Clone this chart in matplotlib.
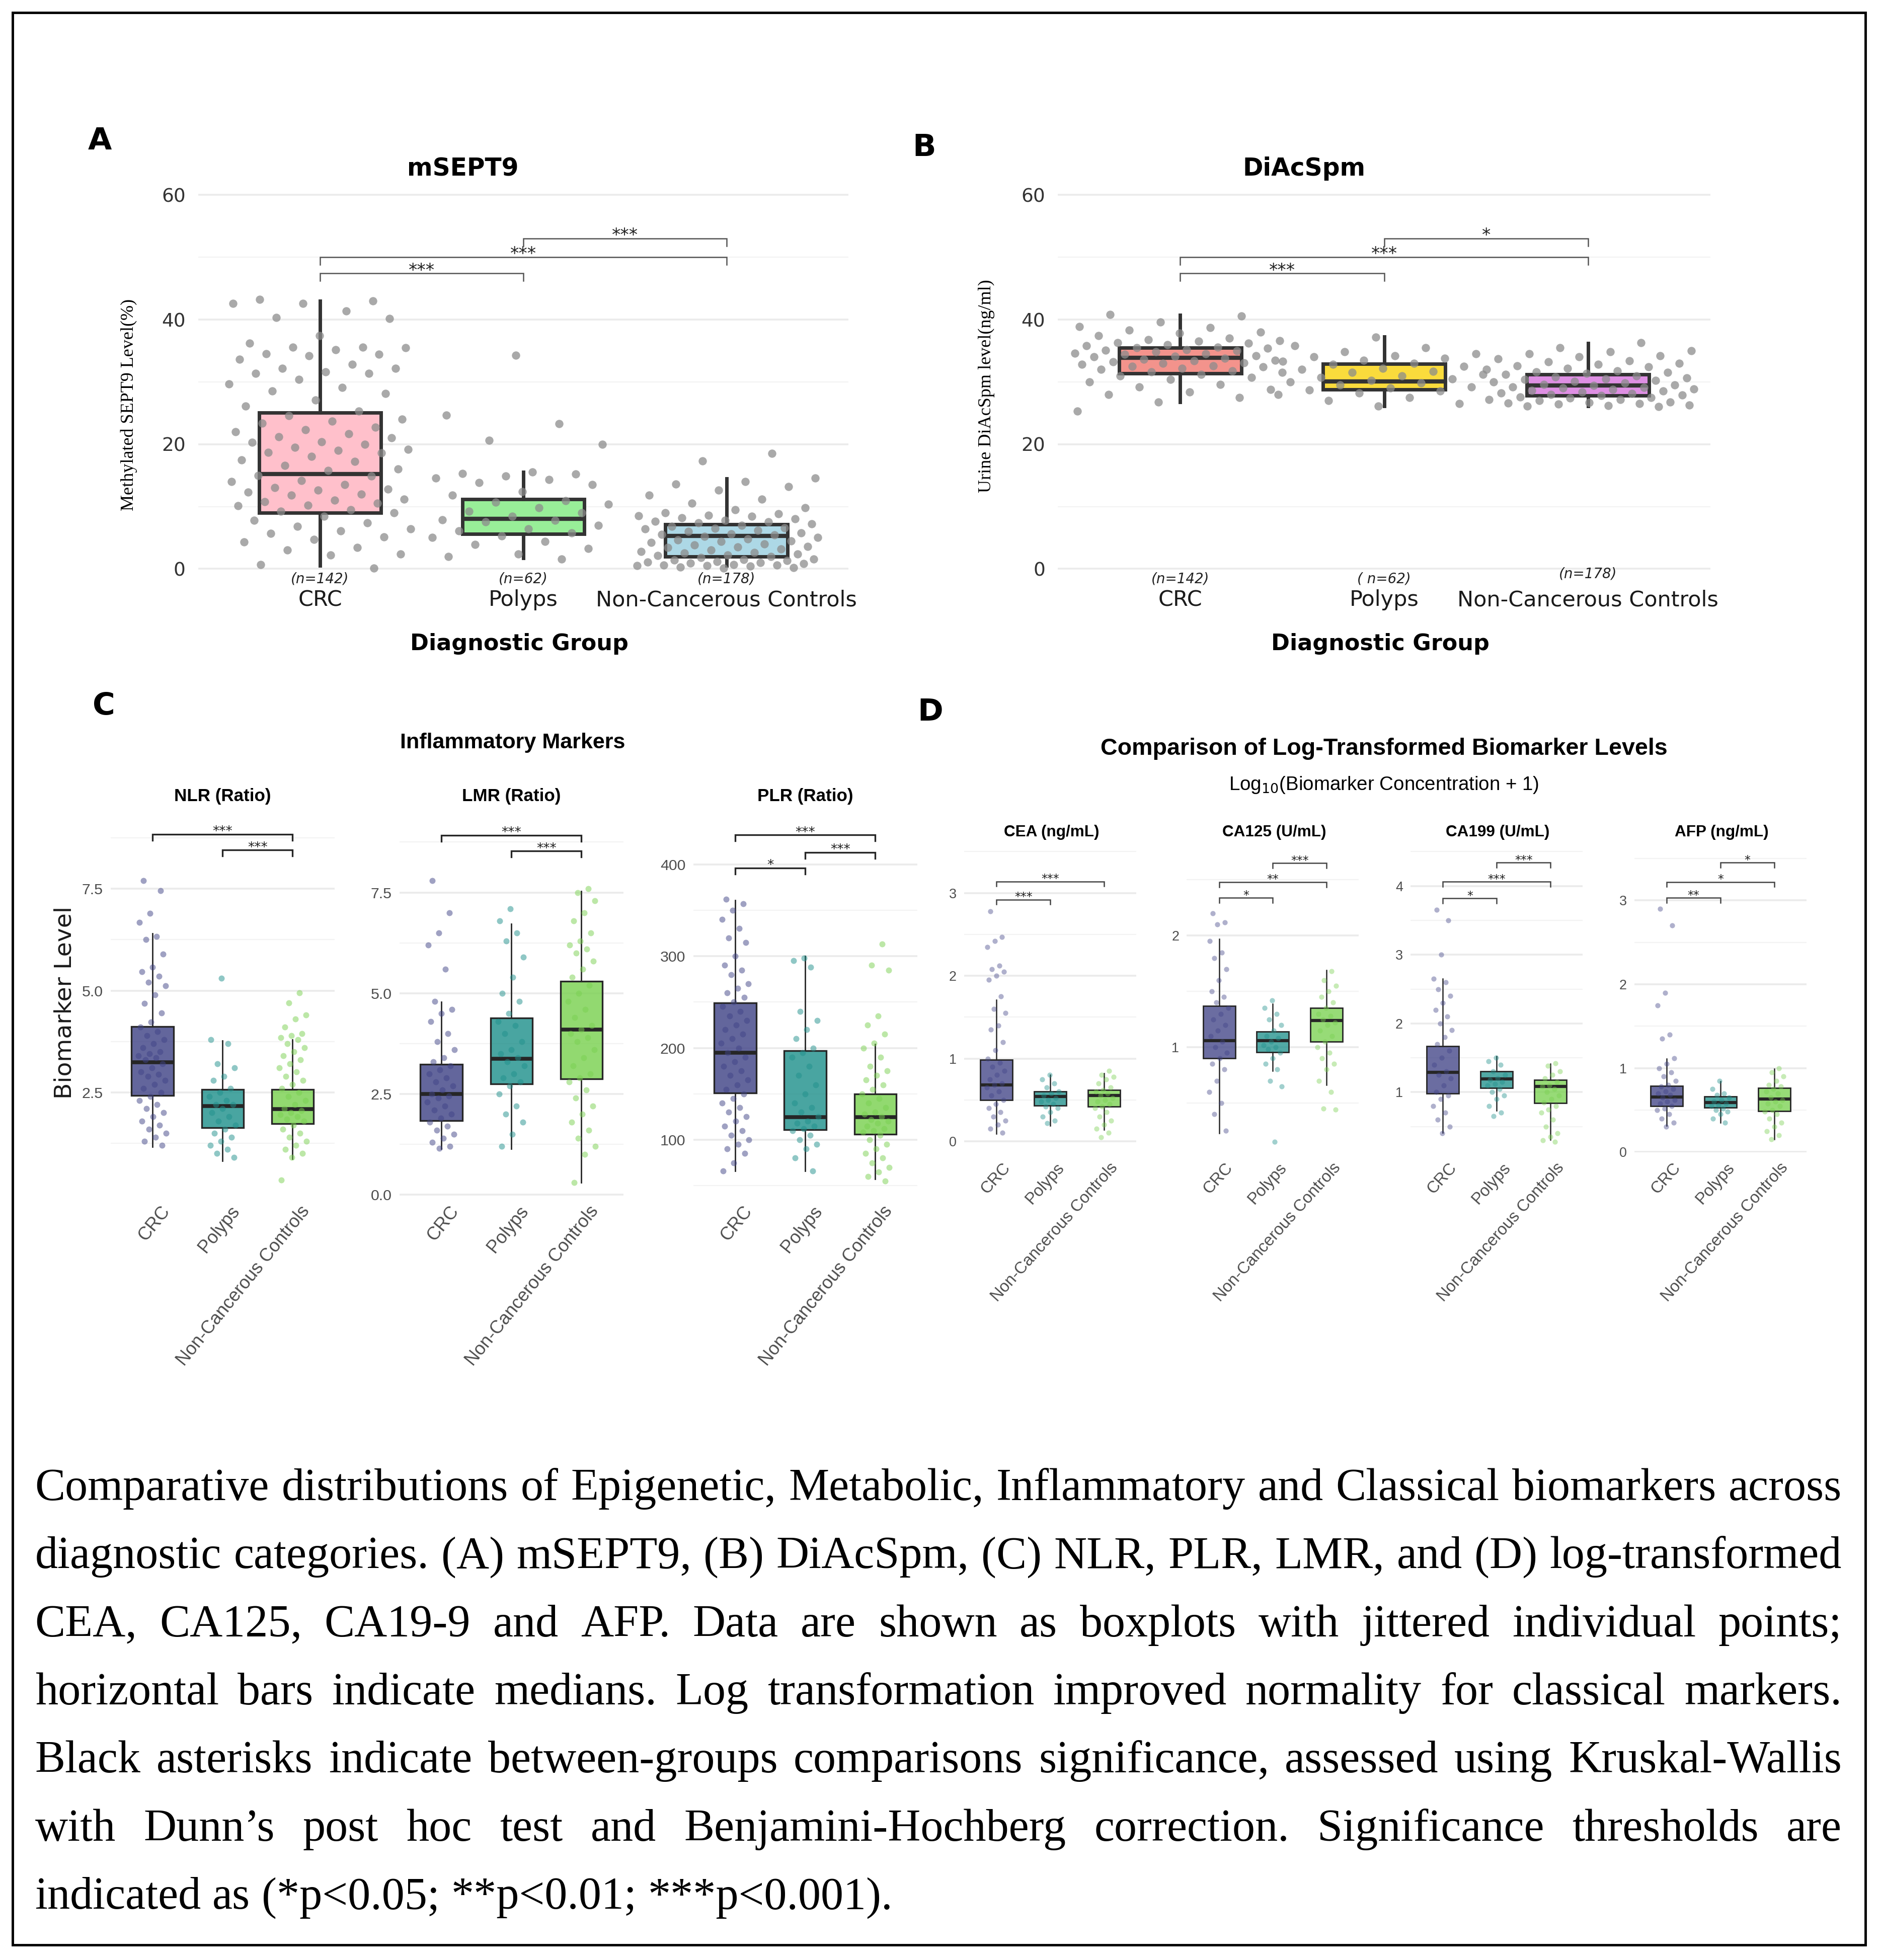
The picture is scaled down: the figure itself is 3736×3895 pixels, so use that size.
import matplotlib
matplotlib.use("Agg")
import matplotlib.pyplot as plt
import matplotlib.transforms as mtransforms
import matplotlib.colors as mcolors
from matplotlib import font_manager
from matplotlib.patches import Rectangle
import numpy as np

# ---------------- data ----------------
groups = ["CRC", "Polyps", "Non-Cancerous Controls"]
n_labels_a = ["(n=142)", "(n=62)", "(n=178)"]
n_labels_b = ["(n=142)", "( n=62)", "(n=178)"]

# box rows: q1, median, q3, whisker low, whisker high
sept9_box = [[9.0, 15.2, 25.1, 0.5, 43.0], [5.6, 8.0, 11.2, 1.7, 15.5], [2.0, 5.3, 7.1, 0.5, 14.5]]
diacspm_box = [[31.4, 33.9, 35.5, 26.8, 40.7], [28.8, 30.1, 32.9, 26.1, 37.3], [27.8, 29.4, 31.2, 26.1, 36.2]]
nlr_box = [[2.42, 3.24, 4.12, 1.17, 6.40], [1.63, 2.17, 2.57, 0.82, 3.77], [1.73, 2.09, 2.57, 0.87, 3.80]]
lmr_box = [[1.83, 2.50, 3.23, 1.14, 4.78], [2.75, 3.37, 4.38, 1.14, 6.72], [2.87, 4.09, 5.30, 0.30, 7.53]]
plr_box = [[151, 195, 249, 66, 361], [111, 124.6, 197, 66, 300], [106, 124.6, 150, 57, 204]]
cea_box = [[0.50, 0.68, 0.985, 0.09, 1.71], [0.43, 0.54, 0.60, 0.19, 0.80], [0.42, 0.55, 0.62, 0.14, 0.82]]
ca125_box = [[0.90, 1.06, 1.37, 0.23, 1.97], [0.955, 1.06, 1.14, 0.79, 1.39], [1.05, 1.24, 1.35, 0.66, 1.69]]
ca199_box = [[0.98, 1.29, 1.67, 0.41, 2.65], [1.06, 1.195, 1.30, 0.73, 1.52], [0.84, 1.08, 1.18, 0.31, 1.41]]
afp_box = [[0.55, 0.655, 0.79, 0.315, 1.115], [0.53, 0.59, 0.665, 0.35, 0.84], [0.49, 0.63, 0.765, 0.15, 0.99]]

# individual points
sept9_crc = [43.2, 43.0, 42.6, 42.6, 41.4, 40.3, 40.2, 37.4, 36.2, 35.6, 35.6, 35.5, 35.2, 34.5, 34.4,
             34.2, 33.6, 32.8, 32.2, 32.2, 31.6, 31.4, 31.4, 30.4, 29.7, 29.1, 28.5, 28.1, 27.1, 26.1,
             25.3, 24.6, 24.0, 23.7, 23.4, 22.7, 22.3, 22.0, 21.7, 21.2, 21.0, 20.4, 20.3, 20.0, 19.5,
             19.2, 19.0, 18.7, 18.6, 18.0, 17.5, 17.2, 16.6, 16.0, 15.8, 15.0, 14.9, 14.2, 14.0, 13.5,
             13.0, 12.8, 12.6, 12.3, 12.0, 11.8, 11.2, 11.0, 10.8, 10.5, 10.2, 10.1, 9.5, 9.2, 9.0, 8.4,
             7.8, 7.4, 6.8, 6.4, 6.1, 5.7, 5.1, 4.7, 4.3, 3.4, 3.0, 2.4, 2.2, 0.7, 0.1]
sept9_pol = [34.3, 24.7, 23.3, 20.6, 20.0, 15.5, 15.3, 15.2, 14.9, 14.6, 14.3, 13.8, 13.5, 12.4, 11.8,
             10.9, 10.7, 10.4, 9.8, 9.2, 9.0, 8.4, 7.9, 7.8, 7.5, 7.0, 6.4, 6.1, 5.8, 5.3, 5.0, 4.4,
             3.9, 3.3, 2.4, 2.0, 1.6]
sept9_ncc = [18.5, 17.3, 14.6, 14.0, 13.6, 13.2, 12.6, 11.8, 11.2, 10.5, 9.8, 9.5, 9.0, 8.8, 8.6, 8.5,
             8.4, 8.2, 8.0, 7.8, 7.6, 7.5, 7.4, 7.2, 7.0, 6.8, 6.6, 6.5, 6.4, 6.2, 6.0, 5.8, 5.6, 5.5,
             5.4, 5.2, 5.0, 4.8, 4.6, 4.5, 4.4, 4.2, 4.0, 3.8, 3.6, 3.5, 3.4, 3.2, 3.0, 2.8, 2.6, 2.5,
             2.4, 2.2, 2.1, 2.0, 1.8, 1.6, 1.5, 1.4, 1.3, 1.2, 1.1, 1.0, 0.9, 0.8, 0.7, 0.6, 0.6, 0.5,
             0.5, 0.4, 0.3, 0.2, 0.1]

diac_crc = [40.8, 40.6, 39.6, 38.9, 38.7, 38.3, 38.0, 37.8, 37.4, 37.0, 36.8, 36.6, 36.5, 36.3, 36.2,
            36.0, 35.8, 35.6, 35.5, 35.4, 35.2, 35.1, 35.0, 34.8, 34.6, 34.5, 34.4, 34.2, 34.1, 34.0,
            33.8, 33.6, 33.5, 33.4, 33.2, 33.1, 33.0, 32.8, 32.6, 32.5, 32.4, 32.2, 32.0, 31.8, 31.6,
            31.5, 31.2, 31.0, 30.7, 30.4, 30.0, 29.6, 29.2, 28.8, 28.4, 28.0, 27.5, 26.8, 25.3]
diac_pol = [37.2, 35.8, 35.5, 34.8, 34.5, 34.2, 34.0, 33.8, 33.5, 33.3, 33.0, 32.8, 32.5, 32.2, 32.0,
            31.7, 31.5, 31.2, 31.0, 30.7, 30.5, 30.2, 30.0, 29.8, 29.5, 29.2, 29.0, 28.7, 28.5, 28.2,
            28.0, 27.5, 27.0, 26.5, 26.1]
diac_ncc = [36.3, 35.5, 35.0, 34.8, 34.5, 34.2, 34.0, 33.7, 33.4, 33.2, 33.0, 32.8, 32.6, 32.4, 32.2,
            32.0, 31.8, 31.6, 31.5, 31.4, 31.2, 31.0, 30.8, 30.6, 30.5, 30.4, 30.2, 30.1, 30.0, 29.8,
            29.6, 29.5, 29.4, 29.2, 29.1, 29.0, 28.9, 28.8, 28.6, 28.5, 28.4, 28.2, 28.1, 28.0, 27.9,
            27.8, 27.6, 27.5, 27.4, 27.2, 27.2, 27.0, 26.8, 26.7, 26.6, 26.5, 26.4, 26.3, 26.2, 26.1, 26.0]

nlr_crc = [7.7, 7.45, 6.9, 6.68, 6.33, 6.26, 5.9, 5.58, 5.46, 5.35, 5.2, 5.12, 4.9, 4.68, 4.45, 4.23,
           4.1, 4.0, 3.9, 3.8, 3.7, 3.6, 3.5, 3.45, 3.4, 3.35, 3.3, 3.2, 3.1, 3.0, 2.95, 2.9, 2.8, 2.7,
           2.6, 2.5, 2.4, 2.3, 2.2, 2.1, 2.0, 1.9, 1.8, 1.7, 1.6, 1.5, 1.4, 1.3, 1.2]
nlr_pol = [5.3, 3.8, 3.7, 3.2, 3.1, 2.9, 2.8, 2.6, 2.5, 2.4, 2.3, 2.2, 2.2, 2.1, 2.0, 1.9, 1.8, 1.7,
           1.6, 1.5, 1.4, 1.3, 1.2, 1.1, 1.0, 0.9]
nlr_ncc = [4.95, 4.7, 4.4, 4.3, 4.1, 3.95, 3.9, 3.85, 3.8, 3.7, 3.6, 3.5, 3.4, 3.3, 3.2, 3.1, 3.0, 2.9,
           2.8, 2.7, 2.6, 2.5, 2.4, 2.3, 2.2, 2.1, 2.05, 2.0, 1.95, 1.9, 1.85, 1.8, 1.7, 1.6, 1.5, 1.4,
           1.3, 1.2, 1.1, 1.0, 0.9, 0.35]

lmr_crc = [7.8, 7.0, 6.5, 6.2, 5.6, 4.8, 4.6, 4.5, 4.3, 4.0, 3.8, 3.6, 3.4, 3.3, 3.2, 3.1, 3.0, 2.9,
           2.8, 2.7, 2.6, 2.5, 2.45, 2.4, 2.3, 2.2, 2.1, 2.0, 1.9, 1.8, 1.7, 1.6, 1.5, 1.4, 1.3, 1.2, 1.15]
lmr_pol = [7.1, 6.8, 6.5, 6.3, 5.9, 5.4, 5.0, 4.8, 4.5, 4.3, 4.2, 4.0, 3.8, 3.6, 3.5, 3.4, 3.3, 3.2,
           3.0, 2.9, 2.8, 2.7, 2.5, 2.2, 2.0, 1.8, 1.5, 1.2]
lmr_ncc = [7.6, 7.5, 7.3, 7.0, 6.8, 6.5, 6.3, 6.2, 6.1, 6.0, 5.8, 5.6, 5.4, 5.2, 5.0, 4.8, 4.6, 4.4,
           4.2, 4.1, 4.0, 3.9, 3.8, 3.6, 3.4, 3.2, 3.0, 2.9, 2.8, 2.6, 2.4, 2.2, 2.0, 1.8, 1.6, 1.4,
           1.2, 1.0, 0.3]

plr_crc = [362, 357, 350, 340, 330, 320, 315, 300, 290, 285, 280, 270, 265, 260, 255, 250, 245, 240,
           235, 230, 225, 220, 215, 210, 205, 200, 195, 190, 185, 180, 175, 170, 165, 160, 155, 150,
           145, 140, 135, 130, 125, 120, 115, 110, 105, 100, 95, 90, 85, 75, 66]
plr_pol = [298, 295, 288, 240, 230, 220, 210, 200, 195, 190, 180, 170, 160, 150, 140, 135, 130, 125,
           120, 118, 115, 112, 110, 105, 100, 95, 90, 80, 66]
plr_ncc = [313, 290, 285, 235, 225, 215, 205, 200, 190, 180, 175, 170, 165, 160, 155, 150, 145, 140,
           135, 130, 128, 125, 122, 120, 118, 115, 112, 110, 108, 105, 100, 95, 90, 85, 80, 75, 70,
           65, 60, 55]

cea_crc = [2.78, 2.47, 2.42, 2.35, 2.12, 2.08, 2.05, 2.0, 1.95, 1.75, 1.6, 1.55, 1.4, 1.35, 1.2, 1.1,
           1.0, 0.95, 0.9, 0.85, 0.8, 0.75, 0.7, 0.68, 0.65, 0.6, 0.55, 0.5, 0.45, 0.4, 0.35, 0.3,
           0.25, 0.2, 0.15, 0.1]
cea_pol = [0.8, 0.75, 0.7, 0.65, 0.6, 0.58, 0.55, 0.52, 0.5, 0.48, 0.45, 0.42, 0.4, 0.35, 0.3, 0.25, 0.22]
cea_ncc = [0.85, 0.8, 0.78, 0.75, 0.7, 0.65, 0.62, 0.6, 0.58, 0.55, 0.52, 0.5, 0.48, 0.45, 0.42, 0.4,
           0.35, 0.3, 0.25, 0.2, 0.15, 0.1, 0.05]

ca125_crc = [2.2, 2.12, 2.1, 1.95, 1.85, 1.8, 1.7, 1.6, 1.5, 1.45, 1.4, 1.35, 1.3, 1.25, 1.2, 1.15,
             1.1, 1.05, 1.0, 0.95, 0.9, 0.85, 0.8, 0.7, 0.6, 0.5, 0.4, 0.25]
ca125_pol = [1.42, 1.35, 1.3, 1.25, 1.2, 1.15, 1.1, 1.08, 1.05, 1.02, 1.0, 0.98, 0.95, 0.9, 0.85,
             0.8, 0.7, 0.65, 0.15]
ca125_ncc = [1.68, 1.6, 1.55, 1.5, 1.45, 1.4, 1.35, 1.3, 1.28, 1.25, 1.22, 1.2, 1.15, 1.1, 1.05, 1.0,
             0.95, 0.9, 0.85, 0.8, 0.7, 0.6, 0.45, 0.44]

ca199_crc = [3.65, 3.5, 3.0, 2.65, 2.6, 2.5, 2.4, 2.3, 2.2, 2.1, 2.0, 1.9, 1.8, 1.7, 1.6, 1.5, 1.4,
             1.3, 1.25, 1.2, 1.1, 1.0, 0.95, 0.9, 0.8, 0.7, 0.6, 0.5, 0.4]
ca199_pol = [1.5, 1.45, 1.4, 1.3, 1.25, 1.2, 1.18, 1.15, 1.12, 1.1, 1.05, 1.0, 0.95, 0.9, 0.8, 0.7, 0.65]
ca199_ncc = [1.42, 1.38, 1.3, 1.25, 1.2, 1.15, 1.1, 1.08, 1.05, 1.0, 0.95, 0.9, 0.85, 0.8, 0.75, 0.7,
             0.6, 0.5, 0.4, 0.35, 0.3, 0.28]

afp_crc = [2.9, 2.7, 1.9, 1.75, 1.4, 1.35, 1.12, 1.05, 1.0, 0.95, 0.9, 0.85, 0.8, 0.78, 0.75, 0.72,
           0.7, 0.68, 0.65, 0.62, 0.6, 0.58, 0.55, 0.52, 0.5, 0.45, 0.4, 0.35, 0.3]
afp_pol = [0.85, 0.75, 0.7, 0.68, 0.65, 0.62, 0.6, 0.58, 0.56, 0.55, 0.52, 0.5, 0.48, 0.45, 0.4, 0.35]
afp_ncc = [1.0, 0.95, 0.9, 0.85, 0.8, 0.78, 0.75, 0.72, 0.7, 0.65, 0.62, 0.6, 0.58, 0.55, 0.5, 0.48,
           0.45, 0.4, 0.35, 0.3, 0.25, 0.2, 0.15]

# significance brackets: (group i, group j, height, label)
sept9_sig = [(2, 3, 53.0, "***"), (1, 3, 50.0, "***"), (1, 2, 47.4, "***")]
diac_sig = [(2, 3, 53.0, "*"), (1, 3, 50.0, "***"), (1, 2, 47.4, "***")]
nlr_sig = [(1, 3, 8.84, "***"), (2, 3, 8.45, "***")]
lmr_sig = [(1, 3, 8.92, "***"), (2, 3, 8.53, "***")]
plr_sig = [(1, 3, 432, "***"), (2, 3, 413, "***"), (1, 2, 396, "*")]
cea_sig = [(1, 3, 3.14, "***"), (1, 2, 2.92, "***")]
ca125_sig = [(2, 3, 2.65, "***"), (1, 3, 2.48, "**"), (1, 2, 2.34, "*")]
ca199_sig = [(2, 3, 4.34, "***"), (1, 3, 4.06, "***"), (1, 2, 3.82, "*")]
afp_sig = [(2, 3, 3.45, "*"), (1, 3, 3.22, "*"), (1, 2, 3.03, "**")]

colors_a = ["#FFC0CB", "#98EE98", "#ADD8E6"]
colors_b = ["#F3938C", "#FADB3C", "#DE8FE3"]
colors_v = ["#414487", "#21918C", "#7AD151"]

caption_lines = [
    "Comparative distributions of Epigenetic, Metabolic, Inflammatory and Classical biomarkers across",
    "diagnostic categories. (A) mSEPT9, (B) DiAcSpm, (C) NLR, PLR, LMR, and (D) log-transformed",
    "CEA, CA125, CA19-9 and AFP. Data are shown as boxplots with jittered individual points;",
    "horizontal bars indicate medians. Log transformation improved normality for classical markers.",
    "Black asterisks indicate between-groups comparisons significance, assessed using Kruskal-Wallis",
    "with Dunn\u2019s post hoc test and Benjamini-Hochberg correction. Significance thresholds are",
    "indicated as (*p<0.05; **p<0.01; ***p<0.001).",
]

# ---------------- layout helpers ----------------
W, H = 1504.0, 1568.0          # layout grid = reference picture coordinates
fig = plt.figure(figsize=(37.37, 38.95), dpi=100)
fig.patch.set_facecolor("white")

installed = {f.name for f in font_manager.fontManager.ttflist}
NARROW = "Liberation Sans Narrow" if "Liberation Sans Narrow" in installed else "Liberation Sans"
NS = 1.0 if NARROW == "Liberation Sans Narrow" else 0.84
WIDE = "DejaVu Sans"
SERIF = "Liberation Serif"
TICKGRAY = "#4D4D4D"


def rect(l, t, r, b):
    return [l / W, 1 - b / H, (r - l) / W, (b - t) / H]


def ftext(x, y, s, **kw):
    return fig.text(x / W, 1 - y / H, s, **kw)


def jitter(n, width, seed):
    k = np.arange(n)
    return ((k * 0.6180339887 + seed) % 1.0 - 0.5) * 2 * width


def style_axes(ax, ylim, major, minor, labels, fs, pad, family, color):
    ax.set_xlim(0.4, 3.6)
    ax.set_ylim(*ylim)
    ax.set_yticks(major)
    ax.set_yticklabels(labels, fontsize=fs, family=family, color=color)
    ax.set_yticks(minor, minor=True)
    ax.set_xticks([])
    ax.grid(True, which="major", axis="y", color="#EBEBEB", lw=2.6)
    ax.grid(True, which="minor", axis="y", color="#F3F3F3", lw=1.6)
    ax.set_axisbelow(True)
    ax.tick_params(which="both", length=0, pad=pad)
    for s in ax.spines.values():
        s.set_visible(False)


def draw_boxes(ax, rows, fills, alpha, lw_box, lw_med, lw_wh, edge):
    st = [dict(q1=r[0], med=r[1], q3=r[2], whislo=r[3], whishi=r[4], fliers=[]) for r in rows]
    bp = ax.bxp(st, positions=[1, 2, 3], widths=0.6, patch_artist=True, showcaps=False,
                showfliers=False, manage_ticks=False,
                boxprops=dict(linewidth=lw_box, edgecolor=edge),
                medianprops=dict(color=edge, linewidth=lw_med, solid_capstyle="butt"),
                whiskerprops=dict(color=edge, linewidth=lw_wh), zorder=2)
    for patch, c in zip(bp["boxes"], fills):
        patch.set_facecolor(mcolors.to_rgba(c, alpha))


def draw_points(ax, series, width, colors, s, alpha):
    for i, (vals, c) in enumerate(zip(series, colors)):
        x = i + 1 + jitter(len(vals), width, 0.17 + 0.29 * i)
        ax.scatter(x, vals, s=s, color=c, alpha=alpha, linewidths=0, zorder=3, clip_on=False)


def draw_sig(ax, sig, tip, lw, color, fs):
    for i, j, y, lab in sig:
        ax.plot([i, i, j, j], [y - tip, y, y, y - tip], color=color, lw=lw, clip_on=False,
                solid_joinstyle="miter", zorder=4)
        ax.annotate(lab, xy=((i + j) / 2, y), xytext=(0, -fs * 0.32), textcoords="offset points",
                    ha="center", va="bottom", fontsize=fs, family=WIDE, color="#222222",
                    annotation_clip=False)


def fig_y(ax, y_shown):
    return mtransforms.blended_transform_factory(ax.transData, fig.transFigure), 1 - y_shown / H


# ---------------- panels A and B ----------------
for (l, r), boxes, pts, cols, sig, nlab, title, tx, ylab, ylx, yly in [
        ((158.5, 678.5), sept9_box, [sept9_crc, sept9_pol, sept9_ncc], colors_a, sept9_sig,
         n_labels_a, "mSEPT9", 370, "Methylated SEPT9 Level(%)", 103, 324),
        ((846.0, 1368.0), diacspm_box, [diac_crc, diac_pol, diac_ncc], colors_b, diac_sig,
         n_labels_b, "DiAcSpm", 1043, "Urine DiAcSpm level(ng/ml)", 789, 309)]:
    ax = fig.add_axes(rect(l, 148.5, r, 470))
    style_axes(ax, (-3, 61.5), [0, 20, 40, 60], [10, 30, 50], ["0", "20", "40", "60"],
               27, 18, WIDE, "#333333")
    draw_boxes(ax, boxes, cols, 1.0, 5.0, 6.0, 5.0, "#333333")
    draw_points(ax, pts, 0.45 if title == "mSEPT9" else 0.52, ["#8C8C8C"] * 3, 140, 0.75)
    draw_sig(ax, sig, 1.2, 1.8, "#555555", 25)
    tr, yy = fig_y(ax, 480)
    for k, g in enumerate(groups):
        ax.text(k + 1, yy, g, transform=tr, ha="center", va="center", fontsize=31, family=WIDE,
                color="#1A1A1A")
        ny = 459 if (title == "DiAcSpm" and k == 2) else 463
        ax.text(k + 1, 1 - ny / H, nlab[k], transform=tr, ha="center", va="center", fontsize=20,
                family=WIDE, style="italic", color="#222222")
    ftext(tx, 135, title, ha="center", va="center", fontsize=35, weight="bold", family=WIDE)
    ftext((l + r) / 2 - 3, 515, "Diagnostic Group", ha="center", va="center", fontsize=32,
          weight="bold", family=WIDE)
    ftext(ylx, yly, ylab, ha="center", va="center", rotation=90, fontsize=26, family=SERIF)

ftext(80, 113, "A", ha="center", va="center", fontsize=44, weight="bold", family=WIDE)
ftext(739, 118, "B", ha="center", va="center", fontsize=44, weight="bold", family=WIDE)

# ---------------- panel C ----------------
c_panels = [
    ((88.4, 267.6), "NLR (Ratio)", nlr_box, [nlr_crc, nlr_pol, nlr_ncc], nlr_sig, (-0.08, 9.22),
     [2.5, 5.0, 7.5], [1.25, 3.75, 6.25, 8.75], ["2.5", "5.0", "7.5"]),
    ((319.4, 498.6), "LMR (Ratio)", lmr_box, [lmr_crc, lmr_pol, lmr_ncc], lmr_sig, (-0.074, 9.33),
     [0.0, 2.5, 5.0, 7.5], [1.25, 3.75, 6.25, 8.75], ["0.0", "2.5", "5.0", "7.5"]),
    ((554.4, 733.6), "PLR (Ratio)", plr_box, [plr_crc, plr_pol, plr_ncc], plr_sig, (37.1, 449.7),
     [100, 200, 300, 400], [50, 150, 250, 350], ["100", "200", "300", "400"]),
]
for (l, r), name, boxes, pts, sig, ylim, major, minor, labs in c_panels:
    ax = fig.add_axes(rect(l, 655, r, 958))
    style_axes(ax, ylim, major, minor, labs, 26 * NS, 11, NARROW, TICKGRAY)
    draw_boxes(ax, boxes, colors_v, 0.82, 2.4, 5.5, 2.0, "#262626")
    draw_points(ax, pts, 0.2, colors_v, 75, 0.5)
    draw_sig(ax, sig, 0.016 * (ylim[1] - ylim[0]), 2.4, "#262626", 19)
    tr, yy = fig_y(ax, 962)
    for k, g in enumerate(groups):
        ax.text(k + 1.1, yy, g, transform=tr, rotation=51, rotation_mode="anchor", ha="right",
                va="top", fontsize=31 * NS, family=NARROW, color=TICKGRAY)
    ftext((l + r) / 2, 637, name, ha="center", va="center", fontsize=30 * NS, weight="bold",
          family=NARROW)

ftext(83, 565, "C", ha="center", va="center", fontsize=44, weight="bold", family=WIDE)
ftext(410, 594, "Inflammatory Markers", ha="center", va="center", fontsize=37 * NS,
      weight="bold", family=NARROW)
ftext(52, 802, "Biomarker Level", ha="center", va="center", rotation=90, fontsize=34, family=WIDE,
      color="#1A1A1A")

# ---------------- panel D ----------------
d_panels = [
    (771.2, "CEA (ng/mL)", cea_box, [cea_crc, cea_pol, cea_ncc], cea_sig, (-0.136, 3.55),
     [0, 1, 2, 3], [0.5, 1.5, 2.5, 3.5]),
    (949.2, "CA125 (U/mL)", ca125_box, [ca125_crc, ca125_pol, ca125_ncc], ca125_sig, (0.056, 2.79),
     [1, 2], [0.5, 1.5, 2.5]),
    (1128.2, "CA199 (U/mL)", ca199_box, [ca199_crc, ca199_pol, ca199_ncc], ca199_sig, (0.122, 4.56),
     [1, 2, 3, 4], [0.5, 1.5, 2.5, 3.5, 4.5]),
    (1307.2, "AFP (ng/mL)", afp_box, [afp_crc, afp_pol, afp_ncc], afp_sig, (-0.005, 3.63),
     [0, 1, 2, 3], [0.5, 1.5, 2.5, 3.5]),
]
for l, name, boxes, pts, sig, ylim, major, minor in d_panels:
    r = l + 137.6
    ax = fig.add_axes(rect(l, 678, r, 922))
    style_axes(ax, ylim, major, minor, [str(m) for m in major], 23 * NS, 11, NARROW, TICKGRAY)
    draw_boxes(ax, boxes, colors_v, 0.78, 2.0, 4.5, 1.8, "#262626")
    draw_points(ax, pts, 0.18, colors_v, 55, 0.42)
    draw_sig(ax, sig, 0.016 * (ylim[1] - ylim[0]), 1.8, "#444444", 17)
    tr, yy = fig_y(ax, 928)
    for k, g in enumerate(groups):
        ax.text(k + 1.1, yy, g, transform=tr, rotation=48, rotation_mode="anchor", ha="right",
                va="top", fontsize=28 * NS, family=NARROW, color=TICKGRAY)
    ftext((l + r) / 2 + 1, 666, name, ha="center", va="center", fontsize=27 * NS, weight="bold",
          family=NARROW)

ftext(744, 570, "D", ha="center", va="center", fontsize=44, weight="bold", family=WIDE)
ftext(1107, 599, "Comparison of Log-Transformed Biomarker Levels", ha="center", va="center",
      fontsize=40 * NS, weight="bold", family=NARROW)
ftext(1107, 628, "Log$_{10}$(Biomarker Concentration + 1)", ha="center", va="center",
      fontsize=33 * NS, family=NARROW)

# ---------------- caption (justified) ----------------
renderer = fig.canvas.get_renderer()
fig_w_px = fig.get_figwidth() * fig.dpi


def width_px(s, size):
    t = fig.text(0, 0, s, fontsize=size, family=SERIF)
    w = t.get_window_extent(renderer).width
    t.remove()
    return w


cap_left, cap_right = 28.0, 1473.0
target = (cap_right - cap_left) / W * fig_w_px
base = 60.0
space0 = width_px("n n", base) - width_px("nn", base)
natural = [sum(width_px(w, base) for w in ln.split(" ")) + space0 * (len(ln.split(" ")) - 1)
           for ln in caption_lines[:-1]]
cap_size = base * target / max(natural) * 0.995
space = space0 * cap_size / base

for li, ln in enumerate(caption_lines):
    words = ln.split(" ")
    widths = [width_px(w, cap_size) for w in words]
    if li < len(caption_lines) - 1:
        gap = (target - sum(widths)) / (len(words) - 1)
    else:
        gap = space
    x = cap_left / W * fig_w_px
    y = 1 - (1200 + li * 54.5) / H
    for w, wd in zip(words, widths):
        fig.text(x / fig_w_px, y, w, fontsize=cap_size, family=SERIF, va="baseline", ha="left")
        x += wd + gap

# outer frame
fig.add_artist(Rectangle((10 / W, 1 - 1556 / H), 1482 / W, 1546 / H, transform=fig.transFigure,
                         fill=False, lw=3.5, ec="black"))

fig.savefig("out.png", dpi=100, facecolor="white")
